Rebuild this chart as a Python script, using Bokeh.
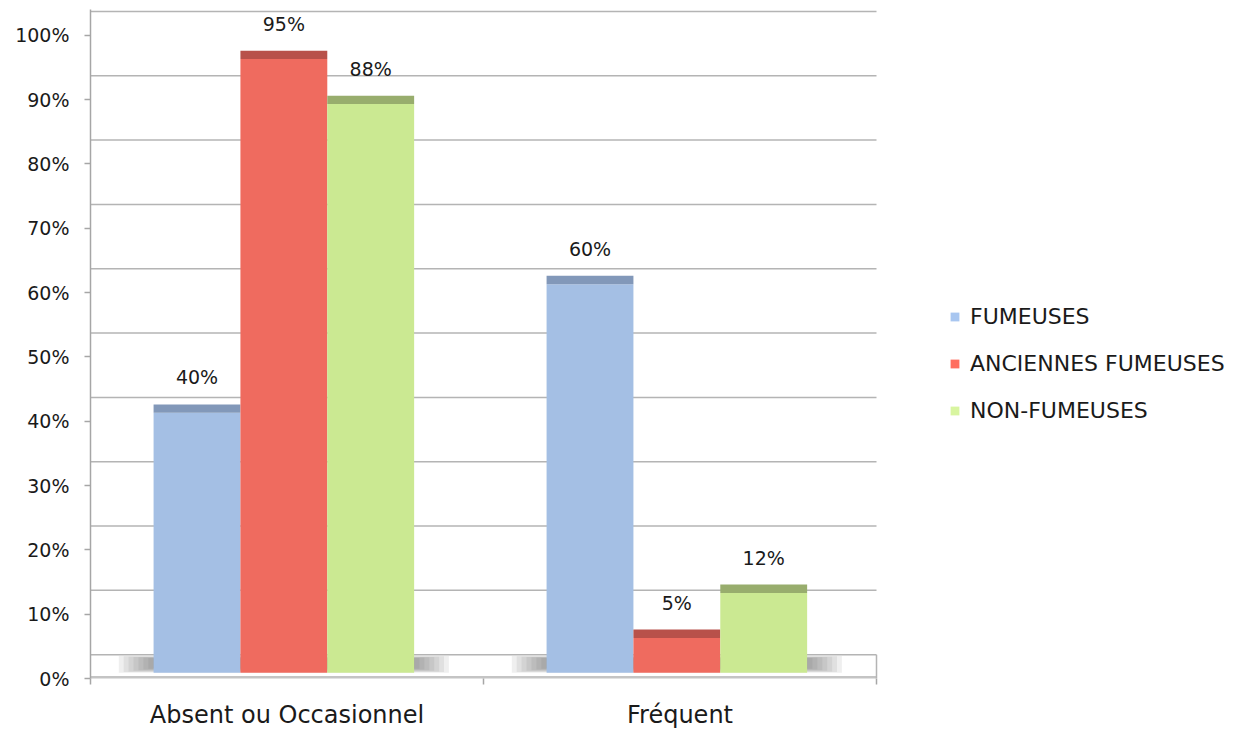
from bokeh.plotting import figure
from bokeh.models import (Range1d, FixedTicker, Legend,
                          LegendItem, ColumnDataSource, PrintfTickFormatter)
from bokeh.core.properties import value
from bokeh.embed import file_html
from bokeh.resources import INLINE

# ---- data ----
categories = ["Absent ou Occasionnel", "Fréquent"]
series = ["FUMEUSES", "ANCIENNES FUMEUSES", "NON-FUMEUSES"]
fumeuses = [40, 60]
anciennes_fumeuses = [95, 5]
non_fumeuses = [88, 12]
y_ticks = [0, 10, 20, 30, 40, 50, 60, 70, 80, 90, 100]

# ---- style ----
FRONT = ["#a4bfe4", "#ef6b5f", "#cbe992"]
CAP = ["#8298b9", "#b8514a", "#98ad6d"]
LEG = ["#a8c6f0", "#ff6e5f", "#d8f5a0"]
FONT = "DejaVu Sans"
TXT = "#1a1a1a"
DEPTH = 2.6    # apparent 3D depth of bar tops (in % units)
CAP_H = 1.3
WALL = 3.7     # back-wall offset of gridlines
FLOOR = 0.9
W = 0.221
SHIFT = -0.008     # slight 3D perspective shift of the bars
PLOT_PX = 786      # width of the plotting area in px
FRAME_PX = 1160    # frame width (plot area + legend area)

ncat = len(categories)
centers = [i + 0.5 for i in range(ncat)]

p = figure(x_range=Range1d(0, ncat * FRAME_PX / PLOT_PX), y_range=Range1d(0, 104.0),
           width=1255, height=731, output_backend="svg", toolbar_location=None,
           min_border_left=90, min_border_right=5, min_border_top=9, min_border_bottom=47)
p.outline_line_color = None
p.xgrid.visible = False
p.ygrid.visible = False
p.background_fill_color = "white"

# back-wall gridlines
gy = [v + WALL for v in y_ticks]
p.segment(x0=[0] * len(gy), x1=[ncat] * len(gy), y0=gy, y1=gy,
          line_color="#b4b4b4", line_width=1.5)
# floor: front edge and right edge
p.segment(x0=[0], x1=[ncat], y0=[0], y1=[0], line_color="#c4c4c4", line_width=5)
p.segment(x0=[ncat], x1=[ncat], y0=[0], y1=[WALL], line_color="#b4b4b4", line_width=1.5)

# floor shadows under groups
for k in range(8):
    p.vbar(x=[c + SHIFT for c in centers], width=0.84 - 0.025 * k,
           bottom=FLOOR + 0.1 * k, top=WALL - 0.2 - 0.05 * k,
           fill_color="#666666", fill_alpha=0.1, line_color=None)

# bars
values = [fumeuses, anciennes_fumeuses, non_fumeuses]
legend_items = []
for i, (name, vals) in enumerate(zip(series, values)):
    src = ColumnDataSource(dict(
        x=[c + SHIFT + (i - 1) * W for c in centers],
        front_top=[v + CAP_H for v in vals],
        cap_top=[v + DEPTH for v in vals],
        label=[f"{v}%" for v in vals],
    ))
    p.vbar(x="x", width=W, bottom=FLOOR, top="front_top", source=src,
           fill_color=FRONT[i], line_color=None)
    p.vbar(x="x", width=W, bottom="front_top", top="cap_top", source=src,
           fill_color=CAP[i], line_color=None)
    p.text(x="x", y="cap_top", text="label", source=src, text_align="center",
           text_baseline="middle", y_offset=-27, text_font=value(FONT),
           text_font_size="19px", text_color=TXT)
    lr = p.rect(x=[centers[0]], y=[-50], width=0.1, height=1, fill_color=LEG[i],
                line_color=None)
    legend_items.append(LegendItem(label=name, renderers=[lr]))

# left axis
ya = p.yaxis[0]
ya.ticker = FixedTicker(ticks=y_ticks)
ya.formatter = PrintfTickFormatter(format="%d%%")
ya.axis_line_color = "#a6a6a6"
ya.axis_line_width = 1.5
ya.major_tick_line_color = "#a6a6a6"
ya.major_tick_line_width = 1.5
ya.major_tick_out = 6
ya.major_tick_in = 0
ya.minor_tick_line_color = None
ya.major_label_text_font = FONT
ya.major_label_text_font_size = "19px"
ya.major_label_text_color = TXT
ya.major_label_standoff = 15

# bottom axis: labels at category centers, ticks at category boundaries
xa = p.xaxis[0]
xa.ticker = FixedTicker(ticks=centers, minor_ticks=list(range(ncat + 1)))
xa.major_label_overrides = {c: name for c, name in zip(centers, categories)}
xa.axis_line_color = None
xa.major_tick_line_color = None
xa.major_tick_out = 0
xa.major_tick_in = 0
xa.minor_tick_line_color = "#a6a6a6"
xa.minor_tick_line_width = 1.5
xa.minor_tick_out = 6
xa.minor_tick_in = 0
xa.major_label_text_font = FONT
xa.major_label_text_font_size = "24px"
xa.major_label_text_color = TXT
xa.major_label_standoff = 16

legend = Legend(items=legend_items, location=(859, 255), orientation="vertical",
                padding=0, margin=0, border_line_color=None, background_fill_alpha=0,
                label_text_font=FONT, label_text_font_size="22px", label_text_color=TXT,
                glyph_width=11, glyph_height=11, label_standoff=10, spacing=22,
                label_height=25)
p.add_layout(legend, "center")

open("out.html", "w").write(file_html(p, INLINE))
